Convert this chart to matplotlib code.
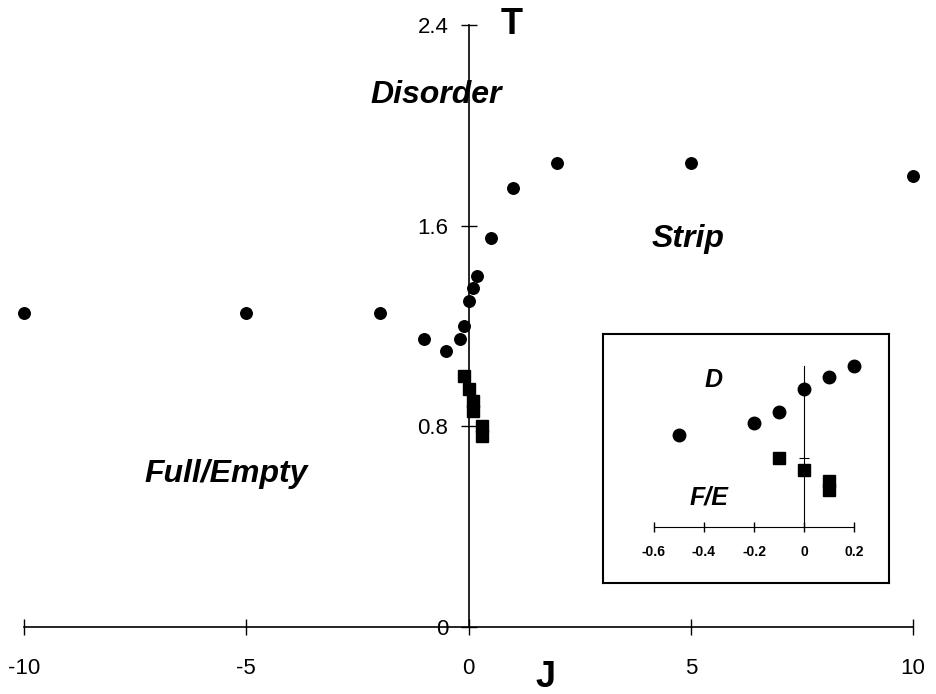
import numpy as np
import matplotlib
matplotlib.use('Agg')
import matplotlib.pyplot as plt

plt.rcParams['font.family'] = ['Liberation Sans', 'DejaVu Sans']
plt.rcParams['axes.unicode_minus'] = False

# -- phase boundary points
J_circ = [-10, -5, -2, -1, -0.5, -0.2, -0.1, 0, 0.1, 0.2, 0.5, 1, 2, 5, 10]
T_circ = [1.25, 1.25, 1.25, 1.15, 1.10, 1.15, 1.20, 1.30, 1.35, 1.40, 1.55, 1.75, 1.85, 1.85, 1.80]
J_sq = [-0.1, 0, 0.1, 0.1, 0.3, 0.3]
T_sq = [1.00, 0.95, 0.90, 0.86, 0.80, 0.76]

x_ticks = [-10, -5, 0, 5, 10]
y_ticks = [0, 0.8, 1.6, 2.4]
y_tick_labels = ['0', '0.8', '1.6', '2.4']
inset_x_ticks = [-0.6, -0.4, -0.2, 0, 0.2]
inset_x_labels = ['-0.6', '-0.4', '-0.2', '0', '0.2']

W, H = 937, 694
fig = plt.figure(figsize=(W / 100, H / 100), dpi=100)

# -- main axes, placed by pixel edges
ax = fig.add_axes([24 / W, 67 / H, 889 / W, 602 / H])
ax.set_xlim(-10, 10)
ax.set_ylim(0, 2.4)
for s in ['top', 'right']:
    ax.spines[s].set_visible(False)
ax.spines['left'].set_position(('data', 0))
ax.spines['bottom'].set_position(('data', 0))
for s in ['left', 'bottom']:
    ax.spines[s].set_linewidth(1.2)
ax.set_xticks(x_ticks)
ax.set_xticklabels([str(v) for v in x_ticks])
ax.set_yticks(y_ticks)
ax.set_yticklabels(y_tick_labels)
ax.tick_params(axis='x', direction='inout', length=11, width=1, pad=17, labelsize=16)
ax.tick_params(axis='y', direction='inout', length=11, width=1, pad=9, labelsize=16)

ax.plot(J_circ, T_circ, 'o', color='black', ms=8.3, clip_on=False)
ax.plot(J_sq, T_sq, 's', color='black', ms=8.0, clip_on=False)

ax.text(0.98, 2.40, 'T', fontsize=26, fontweight='bold', ha='center', va='center')
ax.text(1.74, -0.20, 'J', fontsize=26, fontweight='bold', ha='center', va='center', clip_on=False)
ax.text(-0.72, 2.12, 'Disorder', fontsize=23, fontweight='bold', style='italic', ha='center', va='center')
ax.text(4.94, 1.516, 'Strip', fontsize=23, fontweight='bold', style='italic', ha='center', va='baseline')
ax.text(-5.45, 0.58, 'Full/Empty', fontsize=23, fontweight='bold', style='italic', ha='center', va='baseline')

# -- inset frame
frame = fig.add_axes([603 / W, 111 / H, 286 / W, 249 / H])
frame.set_xticks([])
frame.set_yticks([])
for s in frame.spines.values():
    s.set_linewidth(1.5)

# -- inset data axes
ins = fig.add_axes([654 / W, 166.7 / H, 200 / W, 161.6 / H])
ins.patch.set_alpha(0)
ins.set_xlim(-0.6, 0.2)
ins.set_ylim(0.7, 1.4)
for s in ['top', 'right']:
    ins.spines[s].set_visible(False)
ins.spines['left'].set_position(('data', 0))
ins.set_xticks(inset_x_ticks)
ins.set_xticklabels(inset_x_labels, fontweight='bold')
ins.set_yticks([1.0])
ins.set_yticklabels([])
ins.tick_params(axis='x', direction='inout', length=7, width=1, pad=9, labelsize=10)
ins.tick_params(axis='y', direction='inout', length=7, width=0.8)

Jc = np.array(J_circ)
Tc = np.array(T_circ)
Js = np.array(J_sq)
Ts = np.array(T_sq)
mc = (Jc >= -0.6) & (Jc <= 0.2)
ms_ = (Js >= -0.6) & (Js <= 0.2)
ins.plot(Jc[mc], Tc[mc], 'o', color='black', ms=9, clip_on=False)
ins.plot(Js[ms_], Ts[ms_], 's', color='black', ms=8, clip_on=False)

ins.text(-0.36, 1.34, 'D', fontsize=18, fontweight='bold', style='italic', ha='center', va='center')
ins.text(-0.38, 0.83, 'F/E', fontsize=18, fontweight='bold', style='italic', ha='center', va='center')

plt.savefig('out.png', dpi=100)
